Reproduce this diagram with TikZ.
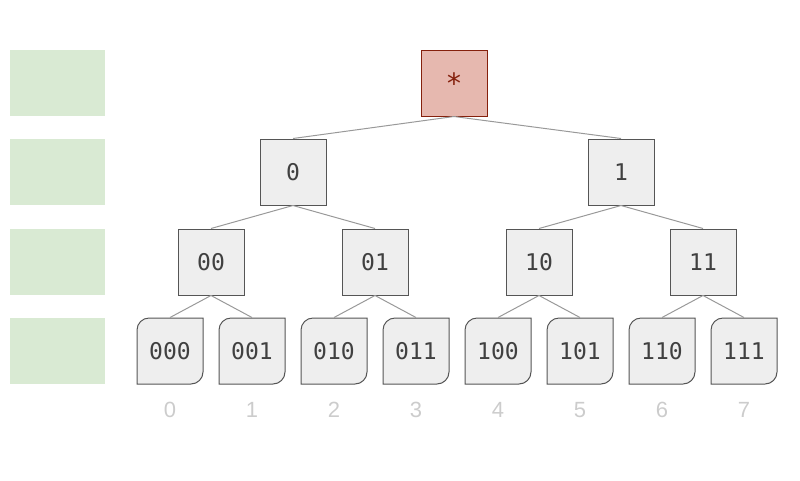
\documentclass[tikz,border=0pt]{standalone}
\usepackage{fontspec}
\setmonofont{DejaVu Sans Mono}
\setmainfont{Liberation Sans}
\definecolor{nodefill}{HTML}{EEEEEE}
\definecolor{nodeline}{HTML}{555555}
\definecolor{rootfill}{HTML}{E6B8AF}
\definecolor{rootline}{HTML}{85200C}
\definecolor{edgecol}{HTML}{999999}
\definecolor{greenbox}{HTML}{D9EAD3}
\definecolor{idxcol}{HTML}{CCCCCC}
\begin{document}
\begin{tikzpicture}[x=1pt,y=-1pt,
  tnode/.style={draw=nodeline, fill=nodefill, line width=1pt, minimum width=66pt, minimum height=66pt, inner sep=0pt, font=\ttfamily\fontsize{23}{23}\selectfont, text=black!75},
  rootnode/.style={tnode, draw=rootline, fill=rootfill, text=rootline, font=\ttfamily\fontsize{28}{28}\selectfont},
  leafbox/.style={draw=nodeline, fill=nodefill, line width=1pt},
  edge/.style={draw=edgecol, line width=1pt},
  level/.style={fill=greenbox, draw=none, minimum width=95pt, minimum height=66pt, inner sep=0pt},
  idx/.style={text=idxcol, font=\fontsize{22}{22}\selectfont}
]
\useasboundingbox (0,0) rectangle (800,480);
\node[level] (g0) at (57.5,83) {};
\node[level] (g1) at (57.5,172) {};
\node[level] (g2) at (57.5,262) {};
\node[level] (g3) at (57.5,351) {};

\node[rootnode] (r) at (454,83) {\raisebox{-4pt}{*}};
\node[tnode] (n0) at (293,172) {0};
\node[tnode] (n1) at (621,172) {1};
\node[tnode] (n00) at (211,262) {00};
\node[tnode] (n01) at (375,262) {01};
\node[tnode] (n10) at (539,262) {10};
\node[tnode] (n11) at (703,262) {11};

\foreach \lab/\xx/\i in {000/170/0,001/252/1,010/334/2,011/416/3,100/498/4,101/580/5,110/662/6,111/744/7}{
  \draw[leafbox]
    (\xx-33,384) -- (\xx-33,330) .. controls (\xx-33,323.4) and (\xx-27.6,318) .. (\xx-21,318)
    -- (\xx+33,318) -- (\xx+33,372) .. controls (\xx+33,378.6) and (\xx+27.6,384) .. (\xx+21,384) -- cycle;
  \node[tnode, draw=none, fill=none] (l\lab) at (\xx,351) {\lab};
  \node[idx] (i\i) at (\xx,410) {\i};
}

\draw[edge] (r.south) -- (n0.north);
\draw[edge] (r.south) -- (n1.north);
\draw[edge] (n0.south) -- (n00.north);
\draw[edge] (n0.south) -- (n01.north);
\draw[edge] (n1.south) -- (n10.north);
\draw[edge] (n1.south) -- (n11.north);
\draw[edge] (n00.south) -- (l000.north);
\draw[edge] (n00.south) -- (l001.north);
\draw[edge] (n01.south) -- (l010.north);
\draw[edge] (n01.south) -- (l011.north);
\draw[edge] (n10.south) -- (l100.north);
\draw[edge] (n10.south) -- (l101.north);
\draw[edge] (n11.south) -- (l110.north);
\draw[edge] (n11.south) -- (l111.north);
\end{tikzpicture}
\end{document}
